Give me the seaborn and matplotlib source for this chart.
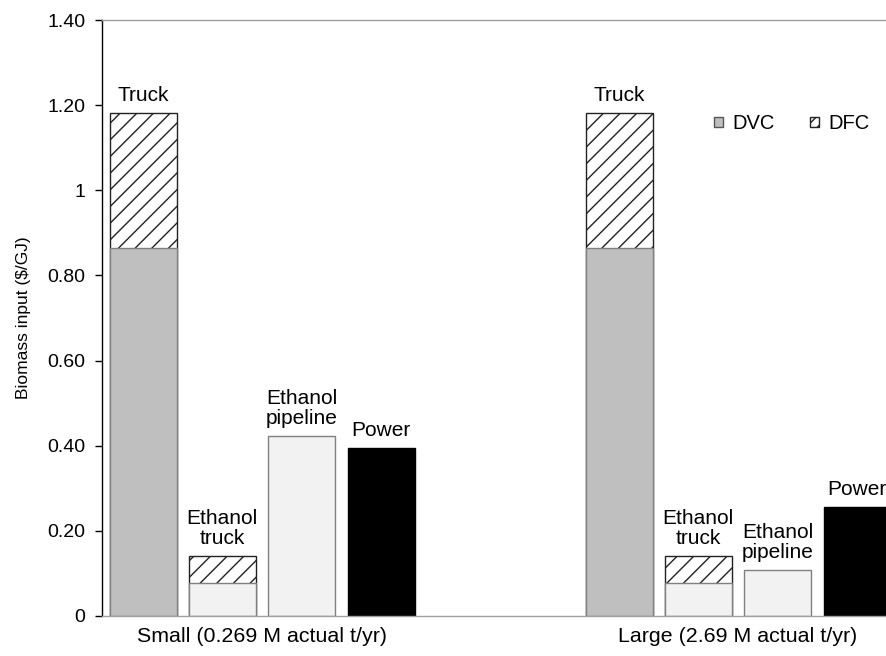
import numpy as np
import pandas as pd
import seaborn as sns
import matplotlib.pyplot as plt
from matplotlib.patches import Patch

# data
groups = ['Small (0.269 M actual t/yr)', 'Large (2.69 M actual t/yr)']
modes = ['Truck', 'Ethanol\ntruck', 'Ethanol\npipeline', 'Power']
positions_small = [0, 1, 2, 3]
positions_large = [6, 7, 8, 9]
dvc_small = [0.865, 0.078, 0.423, 0.395]
dfc_small = [0.317, 0.063, 0.0, 0.0]
dvc_large = [0.865, 0.078, 0.108, 0.256]
dfc_large = [0.317, 0.063, 0.0, 0.0]
yticks = [0, 0.2, 0.4, 0.6, 0.8, 1.0, 1.2, 1.4]
ytick_labels = ['0', '0.20', '0.40', '0.60', '0.80', '1', '1.20', '1.40']

fill_colors = {'Truck': '#bfbfbf', 'Ethanol\ntruck': '#f2f2f2',
               'Ethanol\npipeline': '#f2f2f2', 'Power': '#000000'}

df = pd.DataFrame({
    'pos': positions_small + positions_large,
    'mode': modes + modes,
    'dvc': dvc_small + dvc_large,
    'dfc': dfc_small + dfc_large,
})
df['total'] = df['dvc'] + df['dfc']
stacked = df[df['dfc'] > 0]

sns.set_style('white')
plt.rcParams['font.family'] = ['Liberation Sans', 'DejaVu Sans']
plt.rcParams['hatch.linewidth'] = 1.0
for k in ['text.color', 'axes.labelcolor', 'xtick.color', 'ytick.color']:
    plt.rcParams[k] = 'black'

fig = plt.figure(figsize=(8.87, 6.56), dpi=100)
ax = fig.add_axes([0.115, 0.061, 0.887, 0.9085])

# hatched DFC part: draw totals first, DVC on top
sns.barplot(data=stacked, x='pos', y='total', native_scale=True, width=0.845,
            color='white', saturation=1, errorbar=None, ax=ax,
            edgecolor='#222222', linewidth=1.0, hatch='//')
n_hatch = len(ax.patches)

sns.barplot(data=df, x='pos', y='dvc', hue='mode', palette=fill_colors,
            native_scale=True, dodge=False, width=0.845, saturation=1,
            errorbar=None, legend=False, ax=ax, linewidth=1.0)
for p in ax.patches[n_hatch:]:
    fc = p.get_facecolor()
    p.set_edgecolor('#000000' if fc[0] < 0.1 else '#808080')

# bar labels
for _, r in df.iterrows():
    ax.text(r['pos'], r['total'] + 0.018, r['mode'], ha='center', va='bottom',
            fontsize=15, linespacing=1.1, clip_on=False)

ax.set_xlim(-0.517, 9.4)
ax.set_ylim(0, 1.4)
ax.set_yticks(yticks)
ax.set_yticklabels(ytick_labels, fontsize=14)
ax.set_xticks([1.5, 7.5])
ax.set_xticklabels(groups, fontsize=15.4)
ax.tick_params(axis='x', length=0, pad=8)
ax.tick_params(axis='y', length=5, width=1, direction='out', color='black',
               left=True, pad=7)
ax.set_xlabel('')
ax.set_ylabel('Biomass input ($/GJ)', fontsize=12.5, labelpad=12)

ax.spines['right'].set_visible(False)
ax.spines['left'].set_color('black')
ax.spines['top'].set_color('#a0a0a0')
ax.spines['bottom'].set_color('#a0a0a0')
for s in ax.spines.values():
    s.set_linewidth(1.0)

handles = [Patch(facecolor='#bfbfbf', edgecolor='#555555', label='DVC'),
           Patch(facecolor='white', edgecolor='#222222', hatch='///', label='DFC')]
ax.legend(handles=handles, loc='center left', bbox_to_anchor=(0.76, 0.826),
          ncol=2, frameon=False, fontsize=14.5, handlelength=0.45,
          handleheight=0.45, handletextpad=0.45, columnspacing=1.75,
          borderpad=0.2)

fig.savefig('out.png', dpi=100)
